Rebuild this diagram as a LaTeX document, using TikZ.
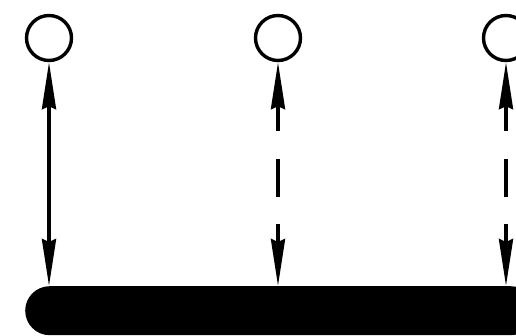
\documentclass[tikz,border=0pt]{standalone}
\usetikzlibrary{arrows.meta}
\begin{document}
\begin{tikzpicture}[x=1pt,y=-1pt,
  ring/.style={circle,draw,line width=3.4pt,minimum size=45pt,inner sep=0pt},
  tipshape/.tip={Stealth[length=47pt,width=14pt,inset=3pt]},
  link/.style={line width=3.5pt,tipshape-tipshape},
  dashlink/.style={link,dash pattern=on 26pt off 28pt on 38pt off 27pt on 200pt},
  barshape/.style={fill,rectangle,rounded corners=24.5pt,minimum width=510pt,minimum height=49pt,inner sep=0pt,anchor=north west}]
\useasboundingbox (0,0) rectangle (516,336);
\begin{scope}
\clip (0,0) rectangle (516,336);
\node[ring] (c1) at (49,38) {};
\node[ring] (c2) at (278,38) {};
\node[ring] (c3) at (506,38) {};
\node[barshape] (bar) at (25,286) {};
\draw[link] (c1) -- (c1 |- bar.north);
\draw[dashlink] (c2) -- (c2 |- bar.north);
\draw[dashlink] (c3) -- (c3 |- bar.north);
\end{scope}
\end{tikzpicture}
\end{document}
